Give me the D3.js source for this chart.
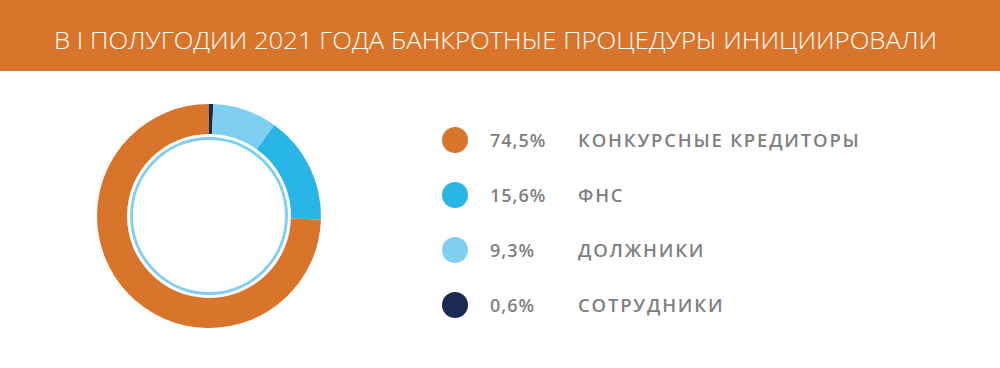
<!DOCTYPE html>
<html>
<head>
<meta charset="utf-8">
<script src="https://cdn.jsdelivr.net/npm/d3@7"></script>
<style>
  body { margin: 0; background: #fff; }
  svg text { font-family: "Open Sans", sans-serif; }
</style>
</head>
<body>
<svg id="chart" width="1000" height="368"></svg>
<script>
var title = 'В I ПОЛУГОДИИ 2021 ГОДА БАНКРОТНЫЕ ПРОЦЕДУРЫ ИНИЦИИРОВАЛИ';
var labels = ['СОТРУДНИКИ', 'ДОЛЖНИКИ', 'ФНС', 'КОНКУРСНЫЕ КРЕДИТОРЫ'];
var values = [0.6, 9.3, 15.6, 74.5];
var colors = ['#1b2a52', '#80cff2', '#29b6e6', '#d9752a'];
// legend goes in reverse order
var legendOrder = [3, 2, 1, 0];

var svg = d3.select('#chart');

svg.append('rect')
  .attr('x', 0).attr('y', 0)
  .attr('width', 1000).attr('height', 71)
  .attr('fill', '#d9752a');

svg.append('text')
  .attr('x', 54).attr('y', 49)
  .attr('fill', '#fff')
  .attr('font-size', 23)
  .attr('font-weight', 300)
  .attr('textLength', 883)
  .attr('lengthAdjust', 'spacingAndGlyphs')
  .text(title);

var cx = 209, cy = 216;
var pie = d3.pie().sort(null).value(function (d) { return d; });
var arc = d3.arc().innerRadius(82).outerRadius(112);

var g = svg.append('g').attr('transform', 'translate(' + cx + ',' + cy + ')');
g.selectAll('path')
  .data(pie(values))
  .enter().append('path')
  .attr('d', arc)
  .attr('fill', function (d, i) { return colors[i]; });

g.append('circle')
  .attr('r', 77.5)
  .attr('fill', 'none')
  .attr('stroke', '#80cff2')
  .attr('stroke-width', 3);

var y = d3.scalePoint().domain(legendOrder).range([140, 305]);

var rows = svg.selectAll('g.row')
  .data(legendOrder)
  .enter().append('g')
  .attr('class', 'row')
  .attr('transform', function (i) { return 'translate(0,' + y(i) + ')'; });

rows.append('circle')
  .attr('cx', 455).attr('r', 13)
  .attr('fill', function (i) { return colors[i]; });

rows.append('text')
  .attr('x', 490).attr('y', 6.5)
  .attr('font-size', 18).attr('font-weight', 600)
  .attr('fill', '#808080')
  .attr('letter-spacing', 1)
  .text(function (i) { return String(values[i]).replace('.', ',') + '%'; });

rows.append('text')
  .attr('x', 578).attr('y', 6.5)
  .attr('font-size', 18.5).attr('font-weight', 600)
  .attr('fill', '#808080')
  .attr('letter-spacing', 1.8)
  .text(function (i) { return labels[i]; });
</script>
</body>
</html>
